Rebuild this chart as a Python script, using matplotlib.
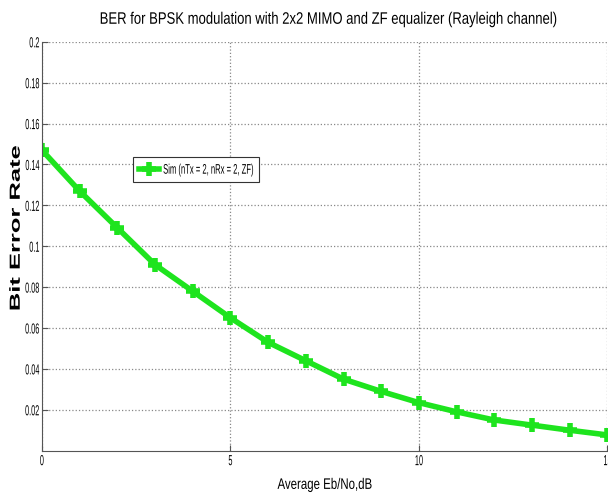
import matplotlib
matplotlib.use("Agg")
import matplotlib.pyplot as plt
from matplotlib.patches import Rectangle
from matplotlib.patheffects import AbstractPathEffect
from matplotlib.transforms import Affine2D

# Eb/No values (dB) and simulated BER
ebno_db = [0, 1, 2, 3, 4, 5, 6, 7, 8, 9, 10, 11, 12, 13, 14, 15]
ber_sim = [0.147, 0.127, 0.109, 0.091, 0.078, 0.065, 0.053, 0.044,
           0.035, 0.029, 0.0235, 0.019, 0.015, 0.0125, 0.010, 0.0077]

yticks = [0.02, 0.04, 0.06, 0.08, 0.1, 0.12, 0.14, 0.16, 0.18, 0.2]
ytick_labels = ["0.02", "0.04", "0.06", "0.08", "0.1", "0.12", "0.14", "0.16", "0.18", "0.2"]
xticks = [0, 5, 10, 15]

LEG_SX = 0.55


class Squeeze(AbstractPathEffect):
    """Draw text narrower/taller (like a condensed font) around an anchor."""

    def __init__(self, sx=0.8, sy=1.0, anchor="center"):
        super().__init__()
        self.sx, self.sy, self.anchor = sx, sy, anchor

    def draw_path(self, renderer, gc, tpath, affine, rgbFace=None):
        ext = tpath.get_extents(affine)
        x0 = {"center": (ext.x0 + ext.x1) / 2, "right": ext.x1, "left": ext.x0}[self.anchor]
        y0 = (ext.y0 + ext.y1) / 2
        aff = affine + Affine2D().translate(-x0, -y0).scale(self.sx, self.sy).translate(x0, y0)
        renderer.draw_path(gc, tpath, aff, rgbFace)


plt.rcParams["font.family"] = ["Liberation Sans", "DejaVu Sans"]

fig = plt.figure(figsize=(6.08, 4.98), dpi=100)
ax = fig.add_axes([0.069, 0.095, 0.93, 0.821])

ax.plot(ebno_db, ber_sim, color="#1ee41e", linewidth=4, marker="+",
        markersize=10, markeredgewidth=4, label="Sim (nTx = 2, nRx = 2, ZF)")

ax.set_xlim(0, 15)
ax.set_ylim(0, 0.2)
ax.set_xticks(xticks)
ax.set_xticklabels([str(t) for t in xticks], fontsize=10.5)
ax.set_yticks(yticks)
ax.set_yticklabels(ytick_labels, fontsize=10.5)
ax.tick_params(axis="y", direction="in", length=4, color="#555555", pad=1.5)
ax.tick_params(axis="x", direction="in", length=4, color="#555555", pad=2.5)
for lab in ax.get_yticklabels():
    lab.set_path_effects([Squeeze(0.5, anchor="right")])
for lab in ax.get_xticklabels():
    lab.set_path_effects([Squeeze(0.5)])
ax.grid(True, linestyle=":", color="#888888", linewidth=0.9)

for side in ["top", "right"]:
    ax.spines[side].set_visible(False)
for side in ["left", "bottom"]:
    ax.spines[side].set_color("#555555")

title = ax.set_title("BER for BPSK modulation with 2x2 MIMO and ZF equalizer (Rayleigh channel)",
                     fontsize=12, pad=13)
title.set_path_effects([Squeeze(0.785)])
ax.title.set_x(0.508)
xl = ax.set_xlabel("Average Eb/No,dB", fontsize=11, labelpad=7)
xl.set_path_effects([Squeeze(0.75)])
yl = ax.set_ylabel("Bit Error Rate", fontsize=10.5, fontweight="bold")
yl.set_path_effects([Squeeze(1.0, 1.75)])
ax.yaxis.set_label_coords(-0.034, 0.545)

# legend without its own frame; a frame fitted to the condensed text is added below
leg = ax.legend(loc="upper left", bbox_to_anchor=(0.161, 0.718), borderaxespad=0,
                frameon=False, prop={"size": 10}, handlelength=1.5,
                handletextpad=0.25, borderpad=0.4)
leg.get_texts()[0].set_path_effects([Squeeze(LEG_SX, anchor="left")])

fig.canvas.draw()
renderer = fig.canvas.get_renderer()
lb = leg.get_window_extent(renderer)
tb = leg.get_texts()[0].get_window_extent(renderer)
(x0, y0), (x1, y1) = ax.transAxes.inverted().transform(
    [[lb.x0, lb.y0], [lb.x1 - tb.width * (1 - LEG_SX), lb.y1]])
ax.add_patch(Rectangle((x0, y0), x1 - x0, y1 - y0, transform=ax.transAxes,
                       facecolor="white", edgecolor="#333333", linewidth=0.8,
                       zorder=4.9))

plt.savefig("out.png", dpi=100)
